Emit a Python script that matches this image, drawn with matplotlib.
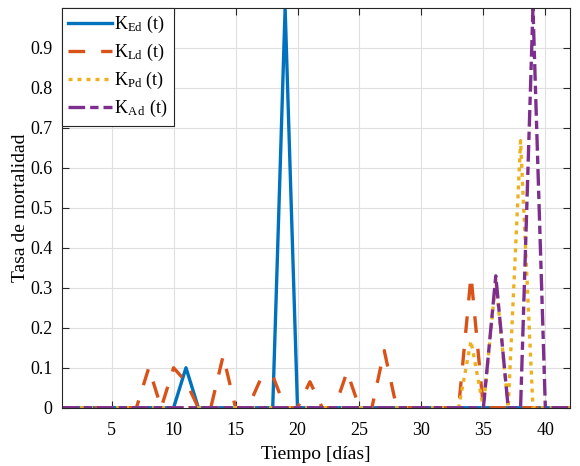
import matplotlib
matplotlib.use("Agg")
import matplotlib.pyplot as plt
import numpy as np

plt.rcParams['font.family'] = ['Liberation Serif', 'DejaVu Serif']
plt.rcParams['mathtext.fontset'] = 'custom'
plt.rcParams['mathtext.rm'] = 'Liberation Serif'
plt.rcParams['mathtext.it'] = 'Liberation Serif:italic'

days = list(range(1, 43))

def series(points):
    vals = [0.0] * len(days)
    for d, v in points.items():
        vals[days.index(d)] = v
    return vals

K_Ed_peaks = {11: 0.10, 19: 1.00}
K_Ld_peaks = {8: 0.10, 10: 0.10, 11: 0.065, 14: 0.13, 17: 0.07, 18: 0.08,
              21: 0.065, 24: 0.09, 27: 0.143, 34: 0.33}
K_Pd_peaks = {34: 0.167, 36: 0.32, 38: 0.668}
K_Ad_peaks = {36: 0.33, 39: 1.00}

K_Ed = series(K_Ed_peaks)
K_Ld = series(K_Ld_peaks)
K_Pd = series(K_Pd_peaks)
K_Ad = series(K_Ad_peaks)

labels = [r'K$_{\mathrm{Ed}}$ (t)', r'K$_{\mathrm{Ld}}$ (t)',
          r'K$_{\mathrm{Pd}}$ (t)', r'K$_{\mathrm{A\,d}}$ (t)']
colors = ['#0072BD', '#D95319', '#EDB120', '#7E2F8E']

fig = plt.figure(figsize=(5.8, 4.66), dpi=100)
ax = fig.add_axes([0.107, 0.125, 0.876, 0.858])

lw = 2.4
ax.plot(days, K_Ed, color=colors[0], lw=lw, label=labels[0])
l2, = ax.plot(days, K_Ld, color=colors[1], lw=lw, label=labels[1])
l2.set_dashes((5.0, 4.8))
l3, = ax.plot(days, K_Pd, color=colors[2], lw=lw, label=labels[2])
l3.set_dashes((1.2, 1.5))
l4, = ax.plot(days, K_Ad, color=colors[3], lw=lw, label=labels[3])
l4.set_dashes((5.0, 1.5, 2.5, 1.5))

ax.set_xlim(1, 42)
ax.set_ylim(0, 1)
ax.set_xticks(np.arange(5, 41, 5))
ax.set_yticks(np.arange(0, 0.95, 0.1))
ax.set_yticklabels(['0', '0.1', '0.2', '0.3', '0.4', '0.5', '0.6', '0.7', '0.8', '0.9'])
ax.grid(True, color='#dfdfdf', lw=0.8)
ax.set_axisbelow(True)
ax.tick_params(direction='in', length=5, width=0.8, top=True, right=True,
               labelsize=13, colors='#262626', labelcolor='black')
ax.tick_params(axis='x', pad=10)
ax.tick_params(axis='y', pad=7)
for s in ax.spines.values():
    s.set_color('#262626')
    s.set_linewidth(0.8)

ax.set_xlabel('Tiempo [días]', fontsize=14, labelpad=5)
ax.set_ylabel('Tasa de mortalidad', fontsize=14, labelpad=1)

leg = ax.legend(loc='upper left', bbox_to_anchor=(0, 1), borderaxespad=0,
                fontsize=13, handlelength=2.4, handletextpad=0.15,
                labelspacing=0.38, borderpad=0.35, fancybox=False,
                framealpha=1, edgecolor='#262626')
leg.get_frame().set_linewidth(0.8)

fig.savefig('out.png', dpi=100)
